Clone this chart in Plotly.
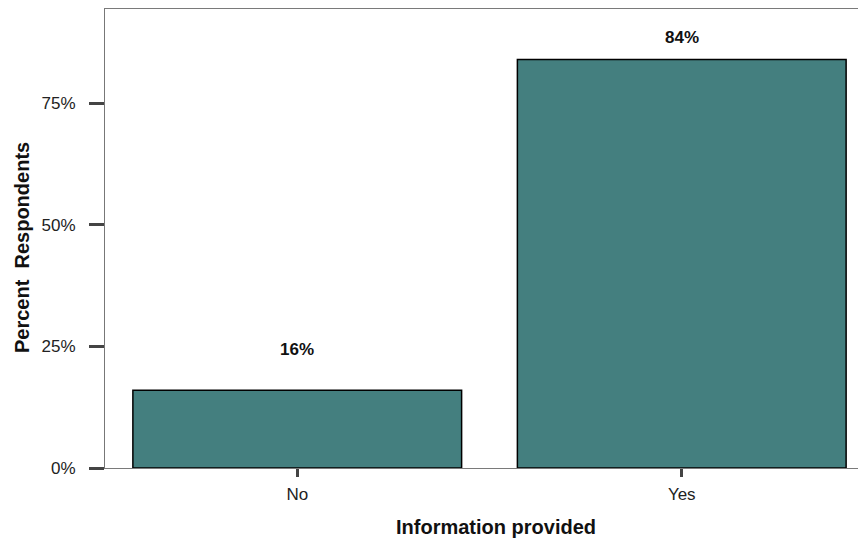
import plotly.graph_objects as go

categories = ["No", "Yes"]
percent_values = [16, 84]
y_tick_values = [0, 25, 50, 75]
y_tick_labels = ["0%", "25%", "50%", "75%"]
x_title = "Information provided"
y_title = "Percent  Respondents"

W, H = 866, 544
ML, MR, MT, MB = 97, 0, 1, 84
plot_w = W - ML - MR
plot_h = H - MT - MB
FONT = "Liberation Sans, Arial"

fig = go.Figure()
fig.add_trace(go.Bar(
    x=categories,
    y=percent_values,
    marker=dict(color="#447f7f", line=dict(color="#000000", width=1.5)),
    hoverinfo="skip",
))

label_shifts = [41, 22]
for cat, val, sh in zip(categories, percent_values, label_shifts):
    fig.add_annotation(
        x=cat, y=val, text=f"<b>{val}%</b>", showarrow=False,
        yshift=sh, font=dict(family=FONT, size=17, color="#111111"),
    )

# axis titles (figure pixel positions converted to paper coordinates)
fig.add_annotation(
    xref="paper", yref="paper", x=(488 - ML) / plot_w, y=(H - MB - 519) / plot_h,
    text=f"<b>{x_title}</b>", showarrow=False, xanchor="center", yanchor="middle",
    font=dict(family=FONT, size=20, color="#111111"),
)
fig.add_annotation(
    xref="paper", yref="paper", x=(14 - ML) / plot_w, y=(H - MB - 240) / plot_h,
    text=f"<b>{y_title}</b>", showarrow=False, textangle=-90, xanchor="center", yanchor="middle",
    font=dict(family=FONT, size=20, color="#111111"),
)

fig.update_layout(
    width=W, height=H,
    margin=dict(l=ML, r=MR, t=MT, b=MB, pad=0),
    paper_bgcolor="white", plot_bgcolor="white",
    bargap=0.145,
    showlegend=False,
    font=dict(family=FONT, size=17, color="#222222"),
)
fig.update_xaxes(
    type="category", range=[-0.5, 1.5],
    showline=True, linecolor="#7a7a7a", linewidth=1, mirror=True,
    ticks="outside", ticklen=8, tickwidth=3, tickcolor="#444444",
    showgrid=False, zeroline=False, ticklabelstandoff=3,
    tickfont=dict(family=FONT, size=17, color="#222222"),
)
fig.update_yaxes(
    range=[0, 94.4],
    tickvals=y_tick_values, ticktext=y_tick_labels,
    showline=True, linecolor="#777777", linewidth=1,
    ticks="outside", ticklen=15, tickwidth=3, tickcolor="#444444",
    showgrid=False, zeroline=False, ticklabelstandoff=10,
    tickfont=dict(family=FONT, size=17, color="#222222"),
)

fig.write_html("out.html")
